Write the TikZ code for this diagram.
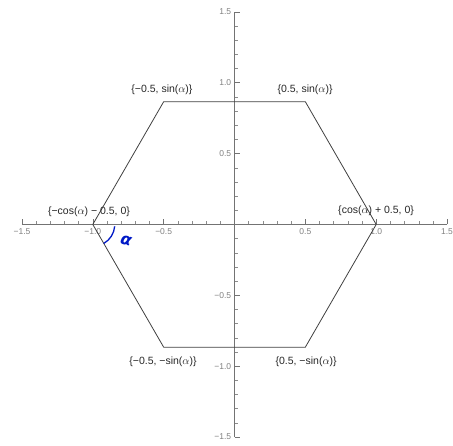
\documentclass[tikz,border=0pt]{standalone}
\usepackage{fontspec}
\setmainfont{Liberation Sans}
\newfontfamily\handfont{DejaVu Sans}
\begin{document}
\begin{tikzpicture}[x=141.7pt,y=141.7pt,
  axisline/.style={draw=black!55,line width=0.7pt},
  majortick/.style={draw=black!55,line width=0.5pt},
  minortick/.style={draw=black!45,line width=0.4pt},
  ticklabel/.style={text=black!50,font=\fontsize{8.5}{10}\selectfont,inner sep=1pt},
  vlabel/.style={text=black!85,font=\fontsize{10.5}{12}\selectfont,inner sep=0pt},
  hexline/.style={draw=black!75,line width=0.8pt,line join=miter},
  anglemark/.style={draw=blue!75!black!90!cyan,line width=1.3pt}]
\useasboundingbox (-1.655,-1.563) rectangle (1.542,1.584);
% axes
\coordinate (xl) at (-1.5,0); \coordinate (xr) at (1.5,0);
\coordinate (yb) at (0,-1.5); \coordinate (yt) at (0,1.5);
\draw[axisline] (xl) -- (xr);
\draw[axisline] (yb) -- (yt);
% minor ticks
\foreach \t in {-14,-13,-12,-11,-9,-8,-7,-6,-4,-3,-2,-1,1,2,3,4,6,7,8,9,11,12,13,14}{
  \draw[minortick] (\t/10,0) -- ++(0,0.022);
  \draw[minortick] (0,\t/10) -- ++(0.022,0);
}
% major ticks and labels
\foreach \v/\l in {-1.5/−1.5,-1/−1.0,-0.5/−0.5,0.5/0.5,1/1.0,1.5/1.5}{
  \draw[majortick] (\v,0) -- ++(0,0.038);
  \draw[majortick] (0,\v) -- ++(0.038,0);
  \node[ticklabel,anchor=north] (xt\v) at (\v,-0.02) {\l};
  \node[ticklabel,anchor=east] (yt\v) at (-0.015,\v) {\l};
}
% hexagon
\coordinate (R) at (1,0);
\coordinate (TR) at (0.5,0.866);
\coordinate (TL) at (-0.5,0.866);
\coordinate (L) at (-1,0);
\coordinate (BL) at (-0.5,-0.866);
\coordinate (BR) at (0.5,-0.866);
\draw[hexline] (R) -- (TR) -- (TL) -- (L) -- (BL) -- (BR) -- cycle;
% vertex labels
\node[vlabel] (lTL) at (-0.512,0.949) {\{−0.5, sin($\alpha$)\}};
\node[vlabel] (lTR) at (0.498,0.949) {\{0.5, sin($\alpha$)\}};
\node[vlabel] (lL) at (-1.027,0.088) {\{−cos($\alpha$) − 0.5, 0\}};
\node[vlabel] (lR) at (0.999,0.095) {\{cos($\alpha$) + 0.5, 0\}};
\node[vlabel] (lBL) at (-0.505,-0.970) {\{−0.5, −sin($\alpha$)\}};
\node[vlabel] (lBR) at (0.505,-0.970) {\{0.5, −sin($\alpha$)\}};
% angle mark
\draw[anglemark] ([shift={(-5:0.155)}]L) arc[start angle=-5,end angle=-60,radius=0.155];
\node[text=blue!75!black!90!cyan,font=\handfont\bfseries\itshape\fontsize{16}{16}\selectfont,rotate=-15] (alpha) at (-0.765,-0.112) {α};
\end{tikzpicture}
\end{document}
